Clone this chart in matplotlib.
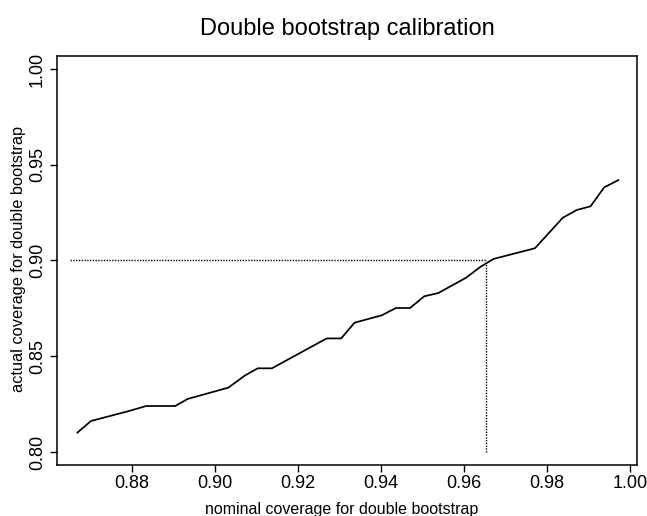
import matplotlib
matplotlib.use("Agg")
import matplotlib.pyplot as plt

plt.rcParams['font.family'] = ['Liberation Sans', 'DejaVu Sans']

# nominal vs actual coverage of the double bootstrap interval
nominal = [0.8668, 0.8701, 0.8791, 0.8834, 0.8904, 0.8934, 0.9032, 0.9071,
           0.9103, 0.9137, 0.9269, 0.9304, 0.9336, 0.9402, 0.9436, 0.9470,
           0.9504, 0.9538, 0.9605, 0.9639, 0.9671, 0.9771, 0.9838, 0.9872,
           0.9905, 0.9938, 0.9972]
actual = [0.8101, 0.8162, 0.8213, 0.8240, 0.8240, 0.8277, 0.8336, 0.8398,
          0.8437, 0.8437, 0.8593, 0.8593, 0.8675, 0.8714, 0.8752, 0.8752,
          0.8813, 0.8830, 0.8910, 0.8966, 0.9008, 0.9064, 0.9223, 0.9264,
          0.9283, 0.9382, 0.9420]

# target actual coverage and the nominal level that achieves it
target_actual = 0.90
calibrated_nominal = 0.9653
ref_x_start = 0.865
ref_y_floor = 0.80

x_ticks = [0.88, 0.90, 0.92, 0.94, 0.96, 0.98, 1.00]
x_tick_labels = ["0.88", "0.90", "0.92", "0.94", "0.96", "0.98", "1.00"]
y_ticks = [0.80, 0.85, 0.90, 0.95, 1.00]
y_tick_labels = ["0.80", "0.85", "0.90", "0.95", "1.00"]

W, H = 647, 516
fig = plt.figure(figsize=(W / 100, H / 100), dpi=100)
ax = fig.add_axes([57 / W, 1 - 465 / H, 580 / W, 409 / H])

ax.plot(nominal, actual, color="black", lw=1.25, solid_joinstyle="miter")
ax.plot([ref_x_start, calibrated_nominal], [target_actual, target_actual],
        color="black", lw=1.0, linestyle=(0, (1, 1)))
ax.plot([calibrated_nominal, calibrated_nominal], [ref_y_floor, target_actual],
        color="black", lw=1.0, linestyle=(0, (1, 1)))

ax.set_xlim(0.8619, 1.0017)
ax.set_ylim(0.7932, 1.0068)

ax.set_xticks(x_ticks)
ax.set_xticklabels(x_tick_labels, fontsize=13)
ax.set_yticks(y_ticks)
ax.set_yticklabels(y_tick_labels, fontsize=13, rotation=90, va="center")

ax.tick_params(axis="both", direction="out", length=5, width=1, color="black")
ax.tick_params(axis="x", pad=2)
ax.tick_params(axis="y", pad=3)

for sp in ax.spines.values():
    sp.set_linewidth(1.1)
    sp.set_color("black")

fig.text(347 / W, 1 - 35 / H, "Double bootstrap calibration",
         ha="center", va="baseline", fontsize=17)
fig.text(342 / W, 1 - 514 / H, "nominal coverage for double bootstrap",
         ha="center", va="baseline", fontsize=11.5)
fig.text(19 / W, 1 - 259 / H, "actual coverage for double bootstrap",
         ha="center", va="center", rotation=90, fontsize=11.8)

fig.savefig("out.png", dpi=100)
